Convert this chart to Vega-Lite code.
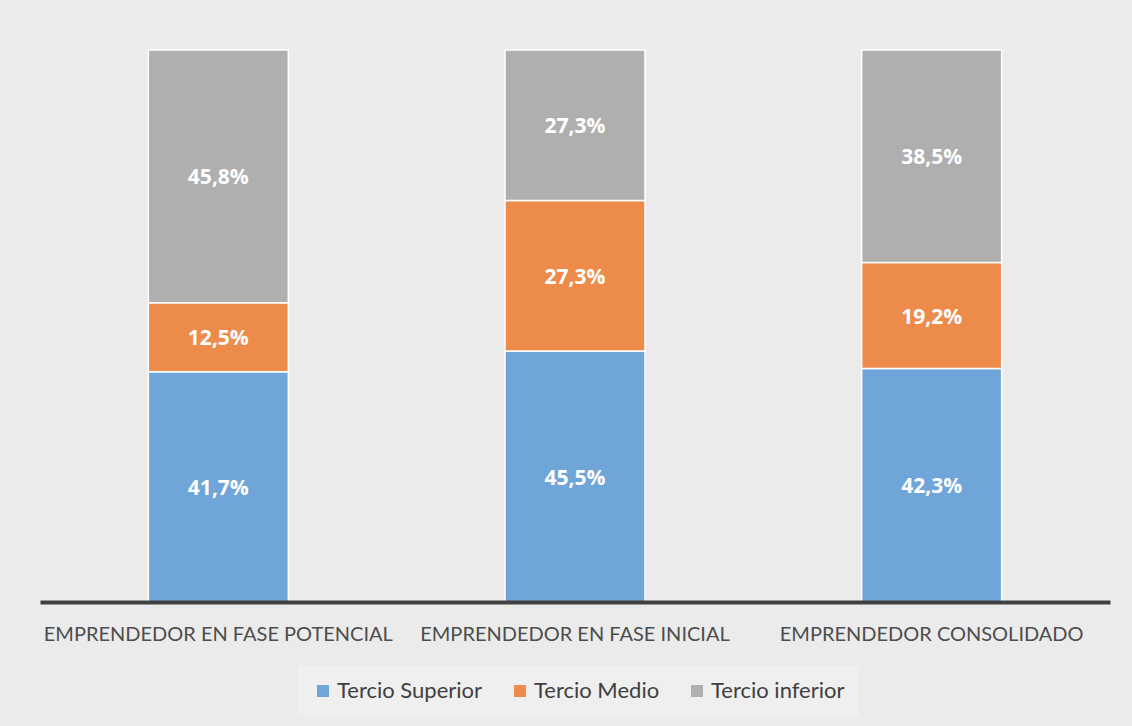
{
  "$schema": "https://vega.github.io/schema/vega-lite/v6.json",
  "width": 1070,
  "height": 552,
  "padding": {"left": 40, "top": 49, "right": 22, "bottom": 12},
  "autosize": {"type": "pad"},
  "background": "#ebebeb",
  "config": {
    "view": {"stroke": null},
    "font": "Lato",
    "locale": {"number": {"decimal": ",", "thousands": ".", "grouping": [3], "currency": ["", " €"]}}
  },
  "data": {
    "values": [
      {"categoria": "EMPRENDEDOR EN FASE POTENCIAL", "tercio": "Tercio Superior", "orden": 1, "valor": 0.417},
      {"categoria": "EMPRENDEDOR EN FASE POTENCIAL", "tercio": "Tercio Medio", "orden": 2, "valor": 0.125},
      {"categoria": "EMPRENDEDOR EN FASE POTENCIAL", "tercio": "Tercio inferior", "orden": 3, "valor": 0.458},
      {"categoria": "EMPRENDEDOR EN FASE INICIAL", "tercio": "Tercio Superior", "orden": 1, "valor": 0.455},
      {"categoria": "EMPRENDEDOR EN FASE INICIAL", "tercio": "Tercio Medio", "orden": 2, "valor": 0.273},
      {"categoria": "EMPRENDEDOR EN FASE INICIAL", "tercio": "Tercio inferior", "orden": 3, "valor": 0.273},
      {"categoria": "EMPRENDEDOR CONSOLIDADO", "tercio": "Tercio Superior", "orden": 1, "valor": 0.423},
      {"categoria": "EMPRENDEDOR CONSOLIDADO", "tercio": "Tercio Medio", "orden": 2, "valor": 0.192},
      {"categoria": "EMPRENDEDOR CONSOLIDADO", "tercio": "Tercio inferior", "orden": 3, "valor": 0.385}
    ]
  },
  "transform": [
    {"stack": "valor", "groupby": ["categoria"], "sort": [{"field": "orden", "order": "ascending"}], "offset": "normalize", "as": ["y0", "y1"]},
    {"calculate": "(datum.y0 + datum.y1) / 2", "as": "ymid"}
  ],
  "encoding": {
    "x": {
      "field": "categoria",
      "type": "nominal",
      "sort": ["EMPRENDEDOR EN FASE POTENCIAL", "EMPRENDEDOR EN FASE INICIAL", "EMPRENDEDOR CONSOLIDADO"],
      "scale": {"paddingInner": 0.6075, "paddingOuter": 0.30375},
      "axis": {
        "title": null,
        "labelAngle": 0,
        "labelFont": "Lato",
        "labelFontSize": 20,
        "labelColor": "#4d4d4d",
        "labelPadding": 22,
        "labelLimit": 500,
        "ticks": false,
        "domainColor": "#404040",
        "domainWidth": 4,
        "grid": false,
        "zindex": 1
      }
    }
  },
  "layer": [
    {
      "mark": {"type": "bar", "stroke": "white", "strokeWidth": 1.5},
      "encoding": {
        "y": {"field": "y0", "type": "quantitative", "scale": {"domain": [0, 1], "nice": false}, "axis": null},
        "y2": {"field": "y1"},
        "color": {
          "field": "tercio",
          "type": "nominal",
          "scale": {"domain": ["Tercio Superior", "Tercio Medio", "Tercio inferior"], "range": ["#6fa5d8", "#ed8b4b", "#afafaf"]},
          "legend": {
            "title": null,
            "orient": "none",
            "legendX": 258,
            "legendY": 616,
            "direction": "horizontal",
            "fillColor": "#efefef",
            "padding": 14,
            "symbolType": "square",
            "symbolSize": 144,
            "symbolStrokeWidth": 0,
            "labelFont": "Lato",
            "labelFontSize": 22,
            "labelColor": "#404040",
            "labelOffset": 3,
            "columnPadding": 26
          }
        }
      }
    },
    {
      "mark": {"type": "text", "font": "Open Sans", "fontWeight": "bold", "fontSize": 21, "dy": 2, "color": "white"},
      "encoding": {
        "y": {"field": "ymid", "type": "quantitative"},
        "text": {"field": "valor", "type": "quantitative", "format": ".1%"}
      }
    }
  ]
}
